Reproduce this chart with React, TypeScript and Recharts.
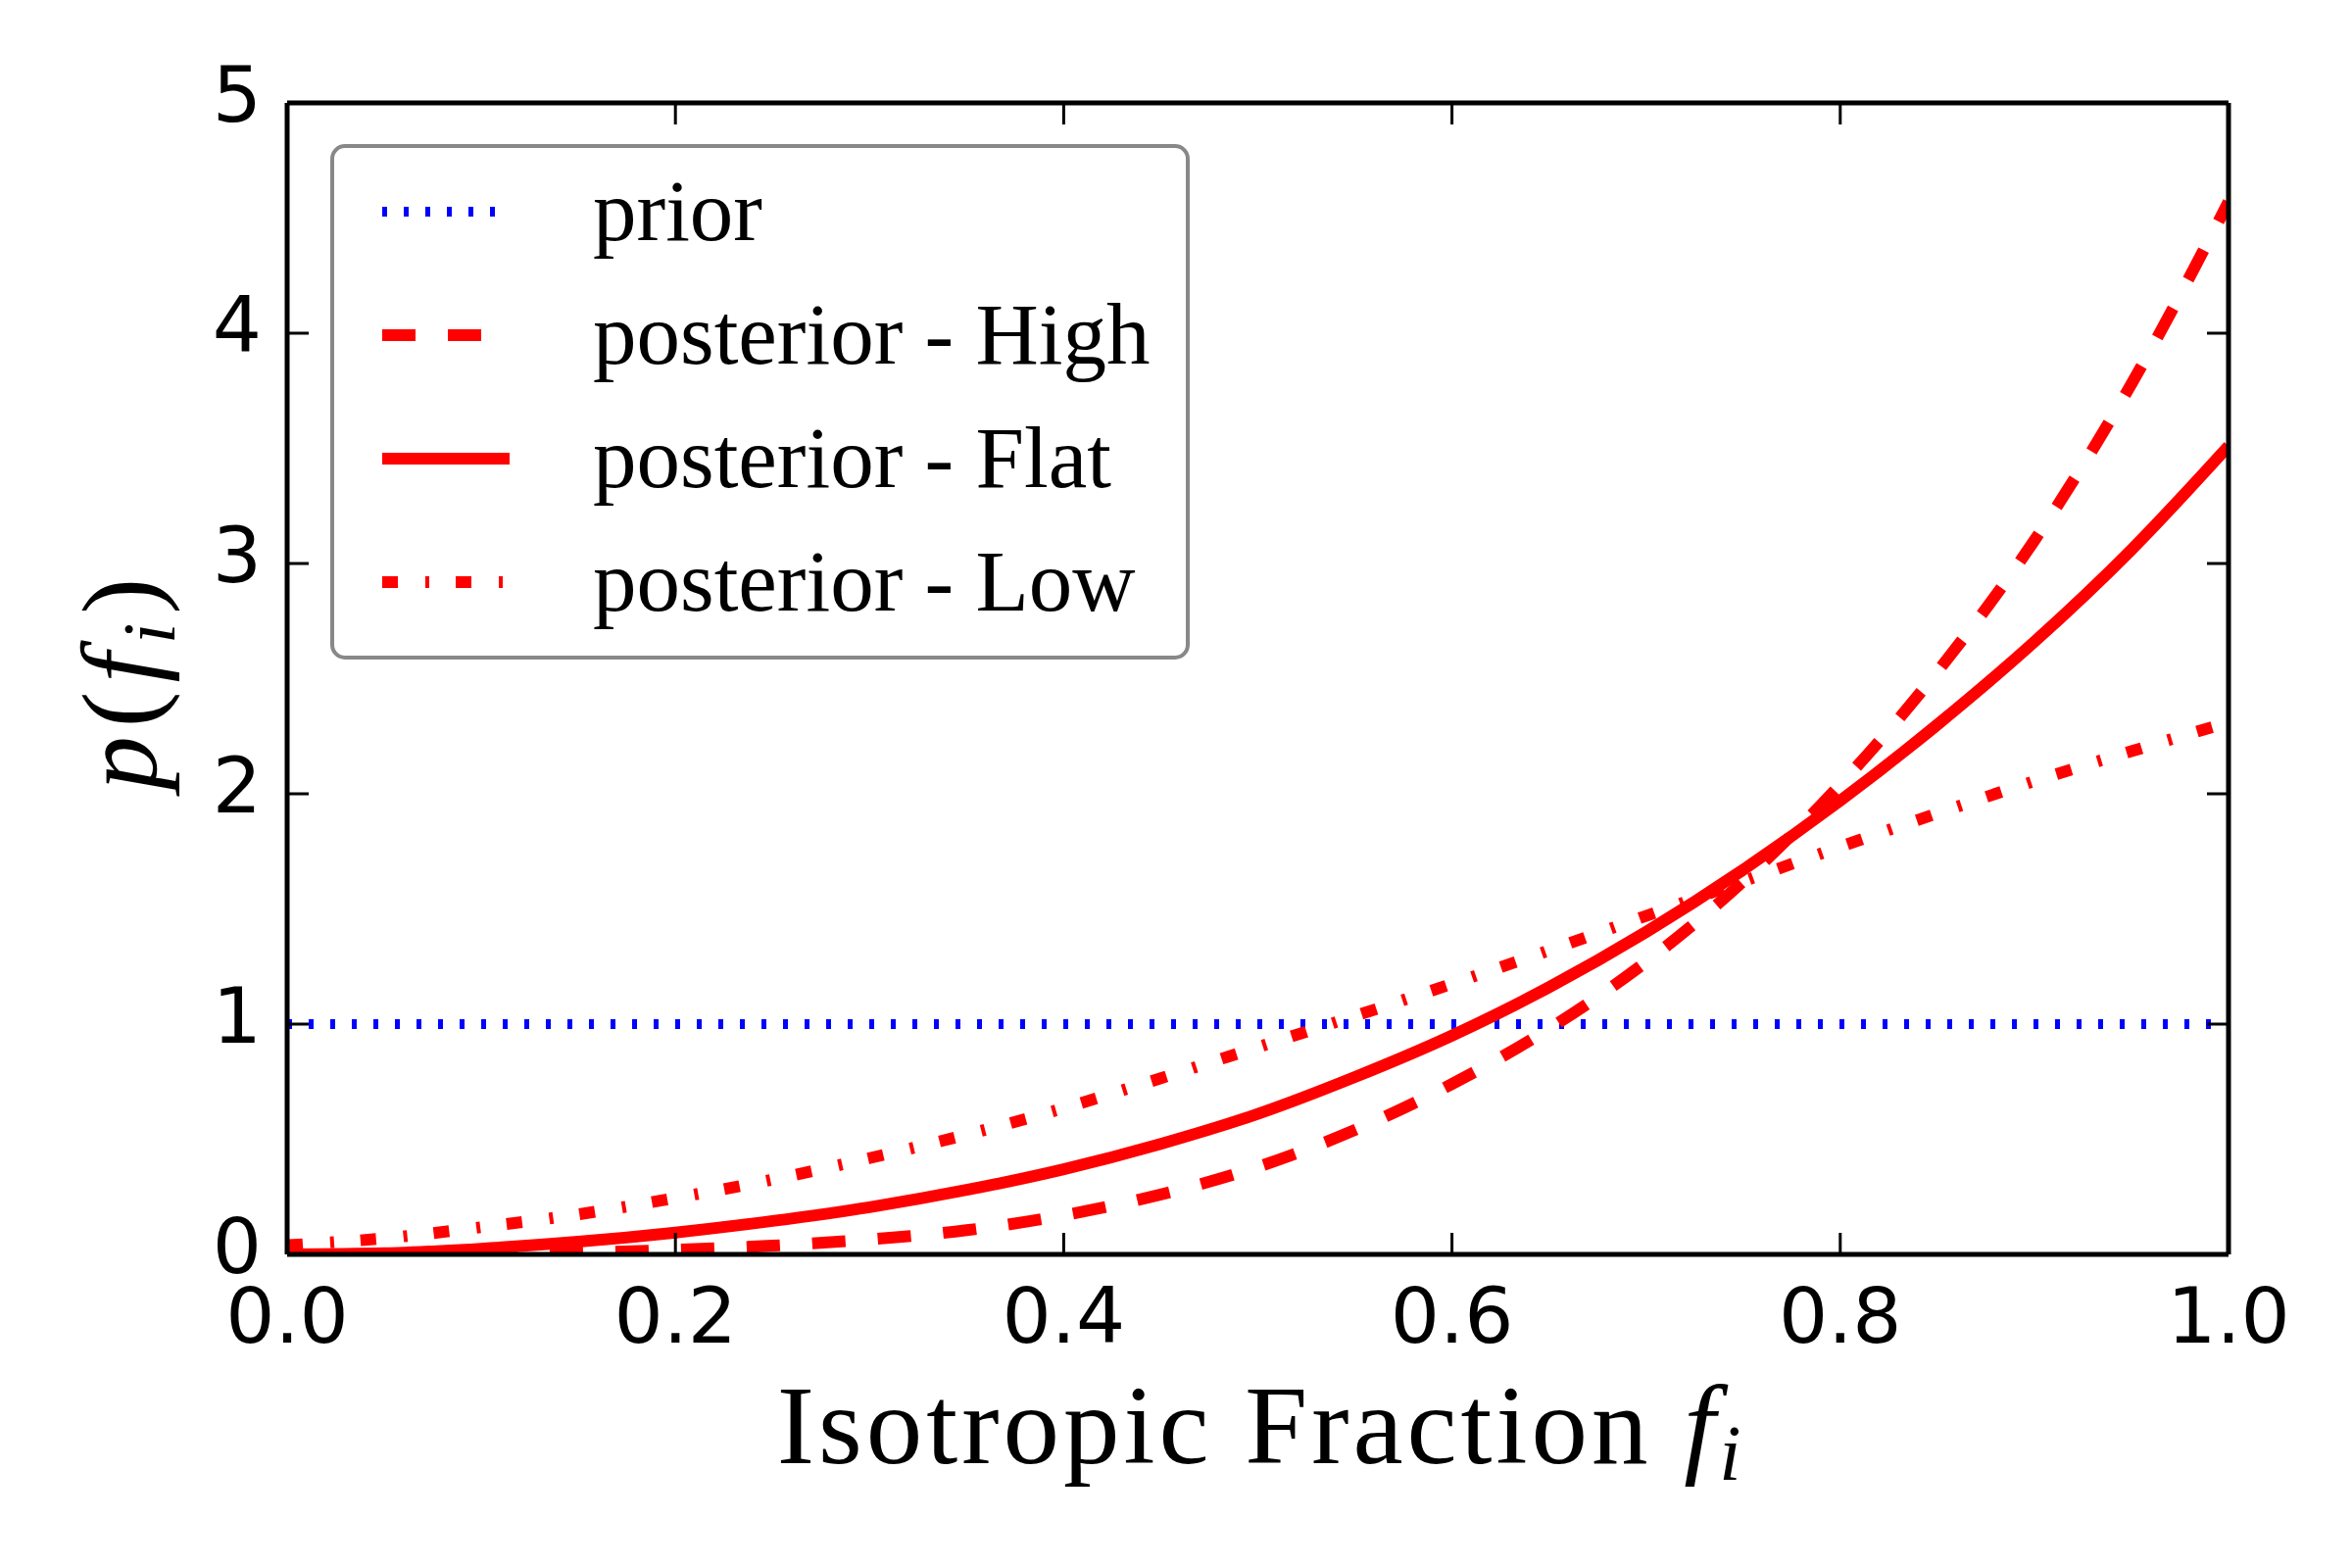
import { LineChart, Line, XAxis, YAxis, Legend } from "recharts"

const fraction = [0, 0.05, 0.1, 0.15, 0.2, 0.25, 0.3, 0.35, 0.4, 0.45, 0.5, 0.55, 0.6, 0.65, 0.7, 0.75, 0.8, 0.85, 0.9, 0.95, 1.0]
const prior = [1, 1, 1, 1, 1, 1, 1, 1, 1, 1, 1, 1, 1, 1, 1, 1, 1, 1, 1, 1, 1]
const posteriorHigh = [0, 0, 0.002, 0.008, 0.02, 0.038, 0.065, 0.105, 0.17, 0.26, 0.38, 0.54, 0.74, 0.98, 1.27, 1.62, 2.04, 2.53, 3.1, 3.78, 4.57]
const posteriorFlat = [0, 0.005, 0.025, 0.055, 0.095, 0.145, 0.205, 0.28, 0.37, 0.48, 0.61, 0.77, 0.95, 1.16, 1.4, 1.67, 1.97, 2.3, 2.66, 3.06, 3.51]
const posteriorLow = [0.04, 0.07, 0.118, 0.174, 0.245, 0.325, 0.418, 0.52, 0.635, 0.765, 0.9, 1.035, 1.175, 1.32, 1.47, 1.62, 1.77, 1.915, 2.055, 2.185, 2.31]

const xTicks = [0, 0.2, 0.4, 0.6, 0.8, 1.0]
const yTicks = [0, 1, 2, 3, 4, 5]

const series = [
  { key: "prior", label: "prior", color: "#0000ff", width: 10, dash: "5 17" },
  { key: "high", label: "posterior - High", color: "#ff0000", width: 12, dash: "34 33" },
  { key: "flat", label: "posterior - Flat", color: "#ff0000", width: 12, dash: undefined },
  { key: "low", label: "posterior - Low", color: "#ff0000", width: 12, dash: "16 28 4 27" },
]

const data = fraction.map((f, i) => ({
  f,
  prior: prior[i],
  high: posteriorHigh[i],
  flat: posteriorFlat[i],
  low: posteriorLow[i],
}))

const SERIF = "'Liberation Serif', 'DejaVu Serif', serif"
const SANS = "'DejaVu Sans', sans-serif"
const TICK_LEN = 22

const BottomTick = ({ x, y, payload }: any) => (
  <g>
    <line x1={x} x2={x} y1={y} y2={y - TICK_LEN} stroke="#000" strokeWidth={3} />
    <text x={x} y={y + 90} textAnchor="middle" fontFamily={SANS} fontSize={79} fill="#000">
      {Number(payload.value).toFixed(1)}
    </text>
  </g>
)

const TopTick = ({ x, y }: any) => (
  <line x1={x} x2={x} y1={y} y2={y + TICK_LEN} stroke="#000" strokeWidth={3} />
)

const LeftTick = ({ x, y, payload }: any) => (
  <g>
    <line x1={x} x2={x + TICK_LEN} y1={y} y2={y} stroke="#000" strokeWidth={3} />
    <text x={x - 26} y={y + 19} textAnchor="end" fontFamily={SANS} fontSize={79} fill="#000">
      {payload.value}
    </text>
  </g>
)

const RightTick = ({ x, y }: any) => (
  <line x1={x} x2={x - TICK_LEN} y1={y} y2={y} stroke="#000" strokeWidth={3} />
)

const XTitle = (props: any) => {
  const vb = props.viewBox || { x: 293, y: 1280, width: 1981 }
  return (
    <text x={vb.x + vb.width / 2 + 3} y={vb.y + 213} textAnchor="middle" fontFamily={SERIF} fontSize={115} letterSpacing={4} fill="#000">
      Isotropic Fraction{" "}
      <tspan fontStyle="italic">f</tspan>
      <tspan fontStyle="italic" fontSize={80} dy={17}>i</tspan>
    </text>
  )
}

const YTitle = (props: any) => {
  const vb = props.viewBox || { x: 193, y: 105, height: 1175 }
  const cx = vb.x - 33
  const cy = vb.y + vb.height / 2 + 1
  return (
    <text x={cx} y={cy} transform={`rotate(-90, ${cx}, ${cy})`} textAnchor="middle" fontFamily={SERIF} fontSize={110} letterSpacing={9} fill="#000">
      <tspan fontStyle="italic">p</tspan>
      <tspan>(</tspan>
      <tspan fontStyle="italic">f</tspan>
      <tspan fontStyle="italic" fontSize={77} dy={18}>i</tspan>
      <tspan dy={-18}>)</tspan>
    </text>
  )
}

const LegendBox = () => (
  <svg width={877} height={526} style={{ display: "block" }}>
    <rect x={2} y={2} width={873} height={522} rx={13} fill="#fff" stroke="#888" strokeWidth={4} />
    {series.map((s, i) => {
      const cy = 69 + i * 126
      return (
        <g key={s.key}>
          <line x1={53} x2={183} y1={cy} y2={cy} stroke={s.color} strokeWidth={s.width} strokeDasharray={s.dash} />
          <text x={268} y={cy + 29} fontFamily={SERIF} fontSize={89} fill="#000">
            {s.label}
          </text>
        </g>
      )
    })}
  </svg>
)

const frameLine = { stroke: "#000", strokeWidth: 5 }

const App = () => {
  return (
    <div style={{ position: "absolute", left: 0, top: 0, width: 2400, height: 1600, background: "#fff" }}>
      <LineChart width={2400} height={1600} data={data} margin={{ top: 85, right: 106, bottom: 260, left: 193 }}>
        <XAxis
          dataKey="f"
          type="number"
          domain={[0, 1]}
          allowDataOverflow
          ticks={xTicks}
          height={60}
          tickSize={0}
          tickMargin={0}
          tickLine={false}
          axisLine={frameLine}
          tick={BottomTick}
          label={(p: any) => <XTitle {...p} />}
        />
        <XAxis
          xAxisId="top"
          orientation="top"
          dataKey="f"
          type="number"
          domain={[0, 1]}
          allowDataOverflow
          ticks={xTicks}
          height={20}
          tickSize={0}
          tickMargin={0}
          tickLine={false}
          axisLine={frameLine}
          tick={TopTick}
        />
        <YAxis
          type="number"
          domain={[0, 5]}
          allowDataOverflow
          ticks={yTicks}
          width={100}
          tickSize={0}
          tickMargin={0}
          tickLine={false}
          axisLine={frameLine}
          tick={LeftTick}
          label={(p: any) => <YTitle {...p} />}
        />
        <YAxis
          yAxisId="right"
          orientation="right"
          type="number"
          domain={[0, 5]}
          allowDataOverflow
          ticks={yTicks}
          width={20}
          tickSize={0}
          tickMargin={0}
          tickLine={false}
          axisLine={frameLine}
          tick={RightTick}
        />
        {series.map((s) => (
          <Line
            key={s.key}
            dataKey={s.key}
            name={s.label}
            type="monotone"
            stroke={s.color}
            strokeWidth={s.width}
            strokeDasharray={s.dash}
            strokeLinecap="butt"
            dot={false}
            activeDot={false}
            isAnimationActive={false}
          />
        ))}
        <Legend
          layout="vertical"
          align="center"
          verticalAlign="middle"
          wrapperStyle={{ left: 337, top: 147, width: 877, height: 526 }}
          content={LegendBox}
        />
      </LineChart>
    </div>
  )
}

export default App
